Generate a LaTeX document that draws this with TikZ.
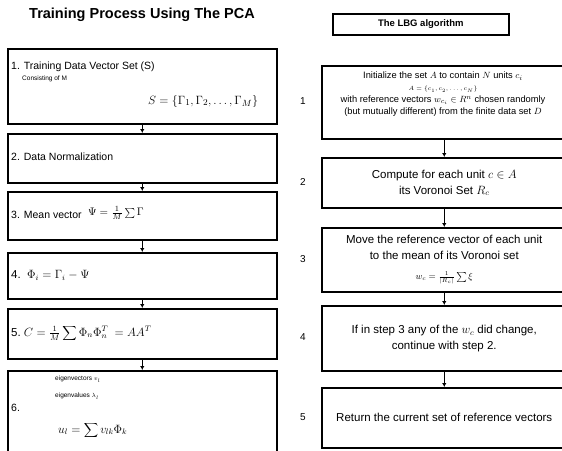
\documentclass[tikz,border=0pt]{standalone}
\usepackage{fontspec}
\setmainfont{Liberation Sans}
\usetikzlibrary{arrows.meta}
\begin{document}
\begin{tikzpicture}[x=1pt,y=-1pt,
  box/.style={draw,line width=1.5pt,anchor=north west,inner sep=0pt},
  flow/.style={-{Latex[length=4pt,width=4.5pt]},line width=1.2pt},
  txt/.style={anchor=west,inner sep=0pt,font=\fontsize{10.5}{12}\selectfont},
  small/.style={anchor=west,inner sep=0pt,font=\fontsize{6.5}{8}\selectfont},
  ctxt/.style={align=center,inner sep=0pt,font=\fontsize{11.5}{16}\selectfont},
  lab/.style={inner sep=0pt,font=\fontsize{10}{12}\selectfont}]
\useasboundingbox (0,0) rectangle (562,450);
% ---------- left column ----------
\node[font=\bfseries\fontsize{14.5}{16}\selectfont] (T1) at (142,15) {Training Process Using The PCA};
\node[box,minimum width=269pt,minimum height=75pt] (L1) at (7,48) {};
\node[box,minimum width=269pt,minimum height=49pt] (L2) at (7,133) {};
\node[box,minimum width=269pt,minimum height=48pt] (L3) at (7,191) {};
\node[box,minimum width=269pt,minimum height=46pt] (L4) at (7,252) {};
\node[box,minimum width=269pt,minimum height=50pt] (L5) at (7,308) {};
\node[box,minimum width=269pt,minimum height=100pt] (L6) at (7,370) {};
\foreach \a/\b in {L1/L2,L2/L3,L3/L4,L4/L5,L5/L6}
  \draw[flow] (\a.south) -- (\b.north);
\node[txt] (l1a) at (11,67) {1. Training Data Vector Set (S)};
\node[small] (l1b) at (22,79) {Consisting of M};
\node[txt,font=\fontsize{12.5}{14}\selectfont] (l1c) at (148,101) {$S=\{\Gamma_1,\Gamma_2,\ldots,\Gamma_M\}$};
\node[txt] (l2a) at (11,157) {2. Data Normalization};
\node[txt] (l3a) at (11,215) {3. Mean vector};
\node[txt,font=\fontsize{11}{13}\selectfont] (l3b) at (88,213) {$\Psi=\frac{1}{M}\sum\Gamma$};
\node[txt,font=\fontsize{11.5}{13}\selectfont] (l4a) at (11,275) {4.\ \ $\Phi_i=\Gamma_i-\Psi$};
\node[txt,font=\fontsize{11.5}{13}\selectfont] (l5a) at (11,333) {5.\ $C=\frac{1}{M}\displaystyle\sum\Phi_n\Phi_n^T\ =AA^T$};
\node[txt] (l6a) at (11,408) {6.};
\node[small] (l6b) at (55,379) {eigenvectors $v_l$};
\node[small] (l6c) at (55,396) {eigenvalues $\lambda_l$};
\node[txt,font=\fontsize{11.5}{13}\selectfont] (l6d) at (58,430) {$u_l=\displaystyle\sum v_{lk}\Phi_k$};
% ---------- right column ----------
\node[box,minimum width=176pt,minimum height=21pt,font=\bfseries\fontsize{9.5}{11}\selectfont] (T2) at (332,13) {The LBG algorithm};
\node[box,minimum width=245pt,minimum height=73pt] (R1) at (321,65) {};
\node[box,minimum width=245pt,minimum height=50pt] (R2) at (321,157) {};
\node[box,minimum width=245pt,minimum height=64pt] (R3) at (321,227) {};
\node[box,minimum width=245pt,minimum height=65pt] (R4) at (321,305) {};
\node[box,minimum width=245pt,minimum height=60pt] (R5) at (321,387) {};
\foreach \a/\b in {R1/R2,R2/R3,R3/R4,R4/R5}
  \draw[flow] (\a.south) -- (\b.north);
\node[anchor=north,align=center,inner sep=0pt,font=\fontsize{9.3}{12}\selectfont] (r1) at (443,72)
  {Initialize the set $A$ to contain $N$ units $c_i$\\
   {\fontsize{6}{7}\selectfont$A=\{c_1,c_2,\ldots,c_N\}$}\\
   with reference vectors $w_{c_i}\in R^n$ chosen randomly\\
   (but mutually different) from the finite data set $D$};
\node[ctxt] (r2) at (R2.center) {Compute for each unit $c\in A$\\its Voronoi Set $R_c$};
\node[ctxt] (r3) at (R3.center) {Move the reference vector of each unit\\to the mean of its Voronoi set\\[4pt]{\fontsize{9}{10}\selectfont$w_c=\frac{1}{|R_c|}\sum\xi$}};
\node[ctxt] (r4) at (R4.center) {If in step 3 any of the $w_c$ did change,\\continue with step 2.};
\node[ctxt] (r5) at (R5.center) {Return the current set of reference vectors};
\node[lab] (n1) at (303,101) {1};
\node[lab] (n2) at (303,182) {2};
\node[lab] (n3) at (303,259) {3};
\node[lab] (n4) at (303,337) {4};
\node[lab] (n5) at (303,417) {5};
\end{tikzpicture}
\end{document}
